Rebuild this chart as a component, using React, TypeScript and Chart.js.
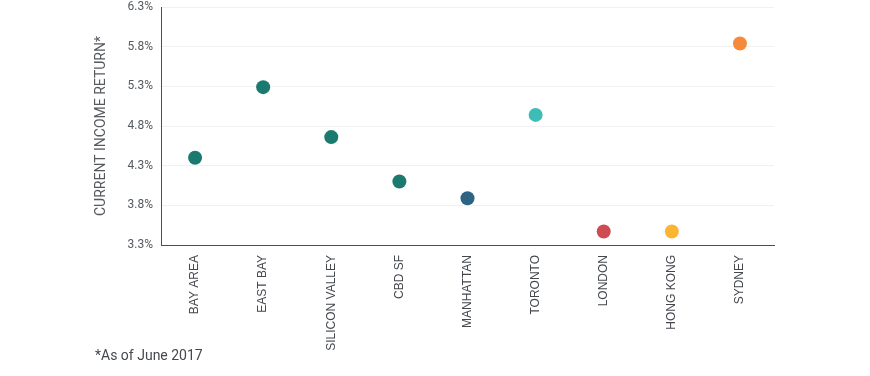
import React, { useEffect, useRef } from "react";
import { Chart, registerables } from "chart.js";

Chart.register(...registerables);

const categories = [
  "BAY AREA",
  "EAST BAY",
  "SILICON VALLEY",
  "CBD SF",
  "MANHATTAN",
  "TORONTO",
  "LONDON",
  "HONG KONG",
  "SYDNEY",
];
const values = [4.4, 5.29, 4.66, 4.1, 3.89, 4.94, 3.47, 3.47, 5.84];
const pointColors = [
  "#1b7a70",
  "#1b7a70",
  "#1b7a70",
  "#1b7a70",
  "#2f6384",
  "#3dbdb5",
  "#cf4b52",
  "#fcb533",
  "#f58b3a",
];
const yTicks = [3.3, 3.8, 4.3, 4.8, 5.3, 5.8, 6.3];
const yTitle = "CURRENT INCOME RETURN*";
const footnote = "*As of June 2017";

export default function App() {
  const ref = useRef<HTMLCanvasElement | null>(null);
  useEffect(() => {
    if (!ref.current) return;
    const chart = new Chart(ref.current, {
      type: "line",
      data: {
        labels: categories,
        datasets: [
          {
            data: values,
            showLine: false,
            pointRadius: 7,
            pointHoverRadius: 7,
            pointBackgroundColor: pointColors,
            pointBorderColor: pointColors,
            pointBorderWidth: 0,
          },
        ],
      },
      options: {
        animation: false,
        responsive: false,
        layout: { padding: { left: 90, right: 96, top: 5, bottom: 0 } },
        plugins: { legend: { display: false }, tooltip: { enabled: false } },
        scales: {
          x: {
            type: "category",
            offset: true,
            grid: { display: false, drawTicks: false },
            border: { display: true, color: "#4a4f55", width: 1 },
            ticks: {
              minRotation: 90,
              maxRotation: 90,
              padding: 10,
              color: "#44484d",
              font: { family: "'Liberation Sans', Arial, sans-serif", size: 12 },
            },
            afterFit: (s: any) => {
              s.height = 131;
              s.paddingLeft = 0;
              s.paddingRight = 0;
            },
          },
          y: {
            min: 3.3,
            max: 6.3,
            afterBuildTicks: (s: any) => {
              s.ticks = yTicks.map((v) => ({ value: v }));
            },
            grid: { color: "#f1f1f1", drawTicks: false },
            border: { display: true, color: "#4a4f55", width: 1 },
            ticks: {
              padding: 8,
              color: "#55595e",
              font: { family: "Roboto, sans-serif", size: 12 },
              callback: (v: any) => Number(v).toFixed(1) + "%",
            },
            title: {
              display: true,
              text: yTitle,
              color: "#55595e",
              font: { family: "Roboto, sans-serif", size: 14 },
              padding: { top: 3, bottom: 4 },
            },
            afterFit: (s: any) => {
              s.width = 71;
              s.paddingTop = 0;
              s.paddingBottom = 0;
            },
          },
        },
      },
    });
    return () => chart.destroy();
  }, []);
  return (
    <div style={{ position: "fixed", left: 0, top: 0, width: 870, height: 376 }}>
      <canvas ref={ref} width={870} height={376} style={{ display: "block" }} />
      <div
        style={{
          position: "absolute",
          left: 95,
          top: 346,
          fontFamily: "Roboto, sans-serif",
          fontSize: 14,
          color: "#44484d",
          lineHeight: "18px",
        }}
      >
        {footnote}
      </div>
    </div>
  );
}
